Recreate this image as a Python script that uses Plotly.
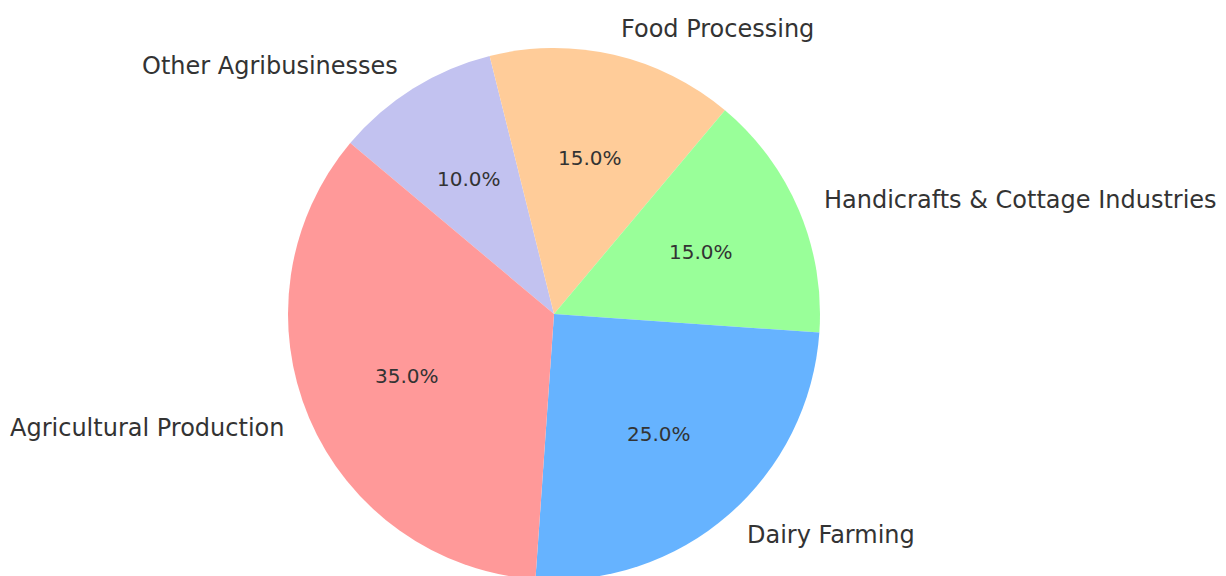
import math
import plotly.graph_objects as go

labels = ["Agricultural Production", "Dairy Farming", "Handicrafts & Cottage Industries",
          "Food Processing", "Other Agribusinesses"]
values = [35, 25, 15, 15, 10]
colors = ["#ff9999", "#66b3ff", "#99ff99", "#ffcc99", "#c2c2f0"]

W, H = 1226, 580
CX, CY, R = 554, 314, 266
START = 140  # degrees, counterclockwise like matplotlib startangle

# pie drawn clockwise from the start angle with reversed order
fig = go.Figure(go.Pie(
    labels=labels[::-1], values=values[::-1],
    marker=dict(colors=colors[::-1], line=dict(width=0)),
    sort=False, direction="clockwise", rotation=-(START - 90),
    textinfo="none", hoverinfo="label+percent", showlegend=False,
    domain=dict(x=[(CX - R) / W, (CX + R) / W], y=[(H - CY - R) / H, (H - CY + R) / H]),
))

total = sum(values)
ann = []
ang = START
for lab, v in zip(labels, values):
    span = 360 * v / total
    mid = math.radians(ang + span / 2)
    ang += span
    c, s = math.cos(mid), math.sin(mid)
    # outer label at 1.1 r
    lx, ly = CX + 1.1 * R * c, CY - 1.1 * R * s
    ann.append(dict(x=lx / W, y=1 - ly / H, xref="paper", yref="paper",
                    text=lab, showarrow=False, xanchor="left" if c > 0 else "right",
                    yanchor="middle", borderpad=0,
                    font=dict(size=24, color="#333333")))
    px, py = CX + 0.6 * R * c, CY - 0.6 * R * s
    ann.append(dict(x=px / W, y=1 - py / H, xref="paper", yref="paper",
                    text=f"{100 * v / total:.1f}%", showarrow=False,
                    xanchor="center", yanchor="middle", borderpad=0,
                    font=dict(size=20, color="#333333")))

fig.update_layout(
    width=W, height=H, margin=dict(l=0, r=0, t=0, b=0),
    paper_bgcolor="white", plot_bgcolor="white",
    font=dict(family="DejaVu Sans", color="#333333"),
    annotations=ann,
)
fig.write_html("out.html", config={"displayModeBar": False},
               post_script="document.body.style.margin='0';document.body.style.overflow='hidden';")
